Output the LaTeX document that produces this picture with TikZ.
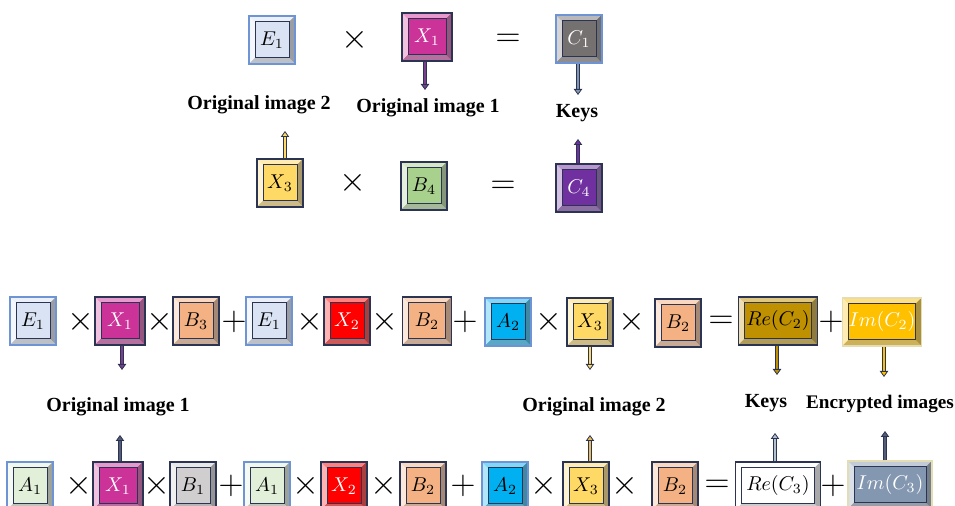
\documentclass[tikz,border=0pt]{standalone}
\usepackage{fontspec}
\setmainfont{Liberation Serif}
\usetikzlibrary{arrows.meta,calc}

\definecolor{capline}{HTML}{2B3452}
\definecolor{capblue}{HTML}{6F94D6}
\definecolor{capcream}{HTML}{E4DDB4}
\definecolor{eone}{HTML}{DAE3F3}
\definecolor{aone}{HTML}{E2F0D9}
\definecolor{bone}{HTML}{D0CECE}
\definecolor{borange}{HTML}{F4B183}
\definecolor{bgreen}{HTML}{A9D18E}
\definecolor{xmag}{HTML}{CC3399}
\definecolor{xred}{HTML}{FF0000}
\definecolor{xyel}{HTML}{FFD966}
\definecolor{atwo}{HTML}{00B0F0}
\definecolor{cgray}{HTML}{767171}
\definecolor{cpurp}{HTML}{7030A0}
\definecolor{cgold}{HTML}{BF9000}
\definecolor{camber}{HTML}{FFC000}
\definecolor{cwhite}{HTML}{FFFFFF}
\definecolor{cslate}{HTML}{8497B0}
\definecolor{sprp}{HTML}{7B3F8C}

\tikzset{
  keycap/.style={draw=capline, line width=0.6pt, fill=#1, minimum width=23pt, minimum height=24pt,
    inner sep=0pt, font=\fontsize{10}{12}\selectfont,
    path picture={
      \path (path picture bounding box.north west) coordinate (pw)
            (path picture bounding box.south east) coordinate (pe);
      \fill[#1!50!white] (pw) -- (pw -| pe) -- ($(pw -| pe)+(-3pt,-3pt)$) -- ($(pw)+(3pt,-3pt)$) -- cycle;
      \fill[#1!30!white] (pw) -- ($(pw)+(3pt,-3pt)$) -- ($(pw |- pe)+(3pt,3pt)$) -- (pw |- pe) -- cycle;
      \fill[#1!55!black!75] (pe) -- (pe |- pw) -- ($(pe |- pw)+(-3pt,-3pt)$) -- ($(pe)+(-3pt,3pt)$) -- cycle;
      \fill[#1!70!black!65] (pe) -- ($(pe)+(-3pt,3pt)$) -- ($(pw |- pe)+(3pt,3pt)$) -- (pw |- pe) -- cycle;
      \draw[capline, line width=0.5pt] ($(pw)+(3pt,-3pt)$) rectangle ($(pe)+(-3pt,3pt)$);
    }},
  stem/.style={draw=capline, line width=0.4pt, double=#1, double distance=1.3pt,
    -{Triangle[length=3pt,width=4.2pt,fill=#1]}},
  opsign/.style={font=\fontsize{18}{20}\selectfont, inner sep=0pt},
  tag/.style={font=\fontsize{10}{12}\selectfont\bfseries}
}

\begin{document}
\begin{tikzpicture}[x=0.5pt, y=-0.5pt]
\useasboundingbox (0,0) rectangle (955,506);

\node[keycap=eone, draw=capblue] (te) at (272,40) {$E_1$};
\node[keycap=xmag, text=white, minimum width=25pt] (tx) at (427,37) {$X_1$};
\node[keycap=cgray, draw=capblue, text=white] (tc) at (579,39) {$C_1$};
\node[keycap=xyel] (tx3) at (280,183) {$X_3$};
\node[keycap=bgreen] (tb) at (424,186) {$B_4$};
\node[keycap=cpurp, text=white] (tc4) at (579,188) {$C_4$};

\node[opsign] (tm1) at (355,40) {$\times$};
\node[opsign] (tq1) at (508,40) {$=$};
\node[opsign] (tm2) at (353,183) {$\times$};
\node[opsign] (tq2) at (503,187) {$=$};

\node[tag] (tl1) at (259,105) {Original image 2};
\node[tag] (tl2) at (428,108) {Original image 1};
\node[tag] (tl3) at (577,113) {Keys};

\coordinate (ta1) at (425,90);
\coordinate (ta2) at (578,95);
\coordinate (ta3) at (285,131);
\coordinate (ta4) at (578,139);
\draw[stem=sprp] (ta1 |- tx.south) -- (ta1);
\draw[stem=cslate] (ta2 |- tc.south) -- (ta2);
\draw[stem=xyel] (ta3 |- tx3.north) -- (ta3);
\draw[stem=cpurp] (ta4 |- tc4.north) -- (ta4);

\node[keycap=eone, draw=capblue] (pe1) at (33,321) {$E_1$};
\node[keycap=xmag, text=white, minimum width=25pt] (px1) at (120,321) {$X_1$};
\node[keycap=borange] (pb3) at (196,321) {$B_3$};
\node[keycap=eone, draw=capblue] (pe2) at (269,321) {$E_1$};
\node[keycap=xred, text=white] (px2) at (347,321) {$X_2$};
\node[keycap=borange, minimum width=24.5pt] (pb2) at (427,321) {$B_2$};
\node[keycap=atwo, draw=capblue] (pa2) at (508,322) {$A_2$};
\node[keycap=xyel] (px3) at (590,322) {$X_3$};
\node[keycap=borange] (pb4) at (678,323) {$B_2$};
\node[keycap=cgold, minimum width=39.5pt] (pre) at (778,321) {$Re(C_2)$};
\node[keycap=camber, draw=capcream, text=white, minimum width=39.5pt] (pim) at (882,322) {$Im(C_2)$};

\foreach \n/\x/\s in {1/81/\times, 2/160/\times, 3/234/+, 4/310/\times, 5/385/\times,
    6/465/+, 7/549/\times, 8/632/\times, 9/721/=, 10/831/+}
  \node[opsign] (pop\n) at (\x,322) {$\s$};

\node[tag] (pl1) at (118,407) {Original image 1};
\node[tag] (pl2) at (594,407) {Original image 2};
\node[tag] (pl3) at (766,403) {Keys};
\node[tag, font=\fontsize{9.6}{12}\selectfont\bfseries] (pl4) at (880,404) {Encrypted images};

\coordinate (pa1) at (122,370);
\coordinate (pa2) at (590,370);
\coordinate (pa3) at (777,375);
\coordinate (pa4) at (884,377);
\draw[stem=sprp] (pa1 |- px1.south) -- (pa1);
\draw[stem=xyel] (pa2 |- px3.south) -- (pa2);
\draw[stem=cgold] (pa3 |- pre.south) -- (pa3);
\draw[stem=camber] (pa4 |- pim.south) -- (pa4);

\node[keycap=aone, draw=capblue] (qa1) at (30,486) {$A_1$};
\node[keycap=xmag, text=white, minimum width=25pt] (qx1) at (118,486) {$X_1$};
\node[keycap=bone] (qb1) at (193,486) {$B_1$};
\node[keycap=aone, draw=capblue] (qa2) at (267,486) {$A_1$};
\node[keycap=xred, text=white] (qx2) at (344,486) {$X_2$};
\node[keycap=borange] (qb2) at (423,486) {$B_2$};
\node[keycap=atwo, draw=capblue] (qa3) at (505,486) {$A_2$};
\node[keycap=xyel] (qx3) at (586,486) {$X_3$};
\node[keycap=borange] (qb3) at (675,486) {$B_2$};
\node[keycap=cwhite, minimum width=42.5pt] (qre) at (778,486) {$Re(C_3)$};
\node[keycap=cslate, draw=capcream, text=white, minimum width=42pt] (qim) at (890,485) {$Im(C_3)$};

\foreach \n/\x/\s in {1/79/\times, 2/157/\times, 3/231/+, 4/306/\times, 5/384/\times,
    6/463/+, 7/544/\times, 8/625/\times, 9/717/=, 10/833/+}
  \node[opsign] (qop\n) at (\x,486) {$\s$};

\coordinate (qa1t) at (120,435);
\coordinate (qa2t) at (590,435);
\coordinate (qa3t) at (775,433);
\coordinate (qa4t) at (885,431);
\draw[stem=capline!80] (qa1t |- qx1.north) -- (qa1t);
\draw[stem=xyel!70!brown] (qa2t |- qx3.north) -- (qa2t);
\draw[stem=cslate!60] (qa3t |- qre.north) -- (qa3t);
\draw[stem=capline!80] (qa4t |- qim.north) -- (qa4t);
\end{tikzpicture}
\end{document}
